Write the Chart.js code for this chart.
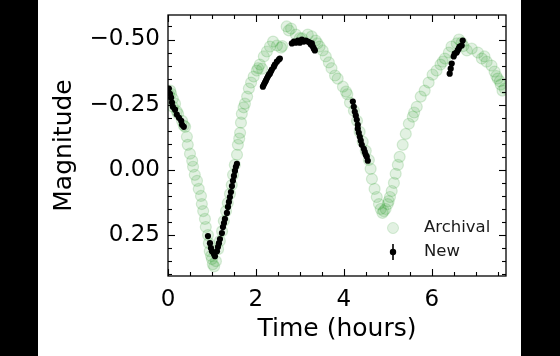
<!DOCTYPE html>
<html><head><meta charset="utf-8">
<script src="https://cdn.jsdelivr.net/npm/chart.js@4"></script>
<style>
html,body{margin:0;padding:0;background:#000;width:560px;height:356px;overflow:hidden}
#wrap{position:absolute;left:38px;top:0;width:483px;height:356px;background:#fff}
canvas{display:block}
</style></head><body>
<div id="wrap"><canvas id="c" width="483" height="356"></canvas></div>
<script>
// Archival observations (time in hours, magnitude)
const archivalTime = [0.05,0.07,0.11,0.16,0.11,0.23,0.32,0.39,0.43,0.45,0.50,0.55,0.57,0.61,0.66,0.70,0.75,0.77,0.80,0.84,0.86,0.91,0.93,0.95,1.00,1.02,1.09,
 1.14,1.18,1.23,1.27,1.32,1.36,1.41,1.45,1.48,1.52,1.57,1.59,1.64,1.66,1.68,1.75,1.80,1.84,1.89,1.95,2.02,2.09,2.14,2.18,2.25,2.32,2.39,2.48,2.57,2.70,
 2.80,2.91,3.05,3.18,3.27,3.36,3.45,3.52,3.59,3.66,3.80,3.86,3.98,4.05,4.14,4.23,4.30,4.36,4.43,4.50,4.57,4.61,4.64,4.70,4.75,4.80,4.84,4.91,4.95,5.00,
 5.05,5.09,5.14,5.18,5.23,5.27,5.34,5.41,5.48,5.57,5.66,5.75,5.84,5.93,6.02,6.11,6.20,6.30,6.39,6.45,6.57,6.68,6.80,6.91,7.05,7.14,7.25,7.36,7.43,7.50,
 7.57,7.61,7.66,
 0.02,0.20,0.36,0.98,1.05,1.62,1.72,2.05,2.60,2.75,3.00,3.40,3.72,4.08,4.88,5.02,5.60,6.25,6.62,6.72,7.20,7.47,7.55];
const archivalMag = [-0.304,-0.292,-0.273,-0.254,-0.242,-0.215,-0.188,-0.165,-0.127,-0.096,-0.062,-0.035,-0.012,0.019,0.042,0.073,0.100,0.131,0.158,0.188,0.219,0.250,0.281,0.312,0.342,0.362,0.350,
 0.304,0.273,0.235,0.196,0.158,0.127,0.092,0.058,0.019,-0.019,-0.058,-0.096,-0.142,-0.181,-0.215,-0.254,-0.281,-0.312,-0.335,-0.358,-0.381,-0.404,-0.388,-0.435,-0.454,-0.473,-0.492,-0.477,-0.469,-0.550,
 -0.542,-0.519,-0.504,-0.519,-0.512,-0.496,-0.473,-0.458,-0.435,-0.412,-0.362,-0.350,-0.319,-0.300,-0.258,-0.227,-0.188,-0.146,-0.108,-0.073,-0.038,-0.004,0.035,0.073,0.104,0.131,0.150,0.158,0.150,0.131,
 0.104,0.081,0.050,0.015,-0.019,-0.050,-0.096,-0.138,-0.177,-0.204,-0.242,-0.281,-0.304,-0.335,-0.365,-0.381,-0.404,-0.427,-0.450,-0.473,-0.485,-0.488,-0.458,-0.465,-0.450,-0.427,-0.415,-0.400,-0.377,-0.350,
 -0.327,-0.304,-0.312,
 -0.290,-0.225,-0.170,0.330,0.370,-0.120,-0.240,-0.390,-0.475,-0.535,-0.505,-0.485,-0.390,-0.290,0.165,0.120,-0.220,-0.415,-0.500,-0.475,-0.435,-0.360,-0.340];

// New observations
const newTime = [0.02,0.045,0.07,0.09,0.11,0.16,0.20,0.25,0.30,0.32,0.36,
 0.909,0.955,0.977,1.0,1.045,1.068,1.114,1.136,1.159,1.182,1.227,1.25,1.273,1.295,1.341,1.364,1.386,1.409,1.432,1.455,1.477,1.5,1.523,1.545,1.568,
 2.159,2.182,2.205,2.227,2.25,2.273,2.295,2.318,2.341,2.364,2.409,2.432,2.477,2.523,2.545,
 2.818,2.864,2.909,2.955,3.0,3.045,3.091,3.136,3.182,3.227,3.25,3.273,3.295,3.318,3.341,
 4.205,4.227,4.25,4.273,4.295,4.318,4.318,4.341,4.364,4.386,4.409,4.455,4.477,4.5,4.523,4.545,
 6.409,6.432,6.455,6.5,6.523,6.568,6.591,6.614,6.636,6.682,6.705];
const newMag = [-0.312,-0.292,-0.277,-0.258,-0.242,-0.231,-0.212,-0.200,-0.188,-0.173,-0.165,
 0.254,0.281,0.300,0.312,0.323,0.331,0.312,0.296,0.281,0.265,0.242,0.219,0.204,0.188,0.165,0.142,0.123,0.104,0.085,0.062,0.042,0.023,0.004,-0.012,-0.023,
 -0.319,-0.327,-0.335,-0.342,-0.350,-0.358,-0.365,-0.369,-0.377,-0.385,-0.396,-0.404,-0.415,-0.423,-0.427,
 -0.485,-0.492,-0.488,-0.496,-0.488,-0.500,-0.492,-0.496,-0.492,-0.488,-0.481,-0.485,-0.473,-0.465,-0.458,
 -0.262,-0.242,-0.223,-0.208,-0.192,-0.173,-0.158,-0.142,-0.127,-0.112,-0.096,-0.081,-0.069,-0.058,-0.050,-0.035,
 -0.369,-0.388,-0.408,-0.435,-0.446,-0.450,-0.458,-0.465,-0.473,-0.477,-0.496];

const xTickValues = [0, 2, 4, 6];
const yTickValues = [-0.5, -0.25, 0, 0.25];
const xMinorStep = 0.5;
const yMinorStep = 0.05;
const xLimits = [0, 7.69];
const yLimits = [-0.594, 0.407];
const seriesNames = ['Archival', 'New'];
const xTitle = 'Time (hours)';
const yTitle = 'Magnitude';

const FONT = "'DejaVu Sans', sans-serif";
const greenFill = 'rgba(20,140,20,0.12)';
const greenEdge = 'rgba(20,140,20,0.16)';

const toPts = (xs, ys) => xs.map((x, i) => ({x: x, y: ys[i]}));

const framePlugin = {
  id: 'frameTicks',
  afterDraw(chart) {
    const ctx = chart.ctx, a = chart.chartArea;
    const xs = chart.scales.x, ys = chart.scales.y;
    ctx.save();
    ctx.strokeStyle = '#000';
    ctx.lineWidth = 1.3;
    ctx.strokeRect(a.left, a.top, a.right - a.left, a.bottom - a.top);
    const tick = (x1, y1, x2, y2) => { ctx.beginPath(); ctx.moveTo(x1, y1); ctx.lineTo(x2, y2); ctx.stroke(); };
    ctx.lineWidth = 1.1;
    for (let v = xLimits[0]; v <= xLimits[1] + 1e-9; v += xMinorStep) {
      const major = xTickValues.some(t => Math.abs(t - v) < 1e-6);
      const L = major ? 7 : 4;
      const px = Math.round(xs.getPixelForValue(v)) + 0.5;
      tick(px, a.bottom, px, a.bottom - L);
      tick(px, a.top, px, a.top + L);
    }
    const start = Math.ceil(yLimits[0] / yMinorStep) * yMinorStep;
    for (let v = start; v <= yLimits[1] + 1e-9; v += yMinorStep) {
      const major = yTickValues.some(t => Math.abs(t - v) < 1e-6);
      const L = major ? 7 : 4;
      const py = Math.round(ys.getPixelForValue(v)) + 0.5;
      tick(a.left, py, a.left + L, py);
      tick(a.right, py, a.right - L, py);
    }
    // legend inside the axes (lower right)
    const mx = a.right - 113, tx = a.right - 82;
    const y1 = a.bottom - 48, y2 = a.bottom - 24;
    ctx.fillStyle = greenFill;
    ctx.strokeStyle = greenEdge;
    ctx.lineWidth = 1;
    ctx.beginPath(); ctx.arc(mx, y1, 5.5, 0, Math.PI * 2); ctx.fill(); ctx.stroke();
    ctx.strokeStyle = '#000'; ctx.fillStyle = '#000'; ctx.lineWidth = 1.6;
    tick(mx, y2 - 8, mx, y2 + 8);
    ctx.beginPath(); ctx.arc(mx, y2, 3.2, 0, Math.PI * 2); ctx.fill();
    ctx.font = '16.5px ' + FONT;
    ctx.fillStyle = '#1a1a1a';
    ctx.textBaseline = 'middle';
    ctx.textAlign = 'left';
    ctx.fillText(seriesNames[0], tx, y1);
    ctx.fillText(seriesNames[1], tx, y2);
    ctx.restore();
  }
};

new Chart(document.getElementById('c'), {
  type: 'scatter',
  data: {
    datasets: [
      { label: seriesNames[1], data: toPts(newTime, newMag), order: 0,
        pointRadius: 3.1, pointBackgroundColor: '#000', pointBorderColor: '#000', pointBorderWidth: 0, clip: 0 },
      { label: seriesNames[0], data: toPts(archivalTime, archivalMag), order: 1,
        pointRadius: 5.5, pointBackgroundColor: greenFill, pointBorderColor: greenEdge, pointBorderWidth: 1.2, clip: 0 }
    ]
  },
  options: {
    responsive: false, animation: false, devicePixelRatio: 1,
    layout: { padding: { top: 15, right: 15, left: 0, bottom: 0 } },
    plugins: { legend: { display: false }, tooltip: { enabled: false } },
    scales: {
      x: {
        type: 'linear', min: xLimits[0], max: xLimits[1],
        afterFit: s => { s.height = 80; s.paddingLeft = 0; s.paddingRight = 0; },
        afterBuildTicks: s => { s.ticks = xTickValues.map(v => ({value: v})); },
        grid: { display: false, drawTicks: false },
        border: { display: false },
        ticks: { color: '#000', padding: 10, font: { family: FONT, size: 23 }, maxRotation: 0,
                 callback: v => String(v) },
        title: { display: true, text: xTitle, color: '#000', font: { family: FONT, size: 25 },
                 padding: { top: 0, bottom: 12 } }
      },
      y: {
        type: 'linear', reverse: true, min: yLimits[0], max: yLimits[1],
        afterFit: s => { s.width = 130; s.paddingTop = 0; s.paddingBottom = 0; },
        afterBuildTicks: s => { s.ticks = yTickValues.map(v => ({value: v})); },
        grid: { display: false, drawTicks: false },
        border: { display: false },
        ticks: { color: '#000', padding: 8, font: { family: FONT, size: 23 },
                 callback: v => (v < 0 ? '\u2212' : '') + Math.abs(v).toFixed(2) },
        title: { display: true, text: yTitle, color: '#000', font: { family: FONT, size: 25 },
                 padding: { top: 11, bottom: 0 } }
      }
    }
  },
  plugins: [framePlugin]
});
</script>
</body></html>
